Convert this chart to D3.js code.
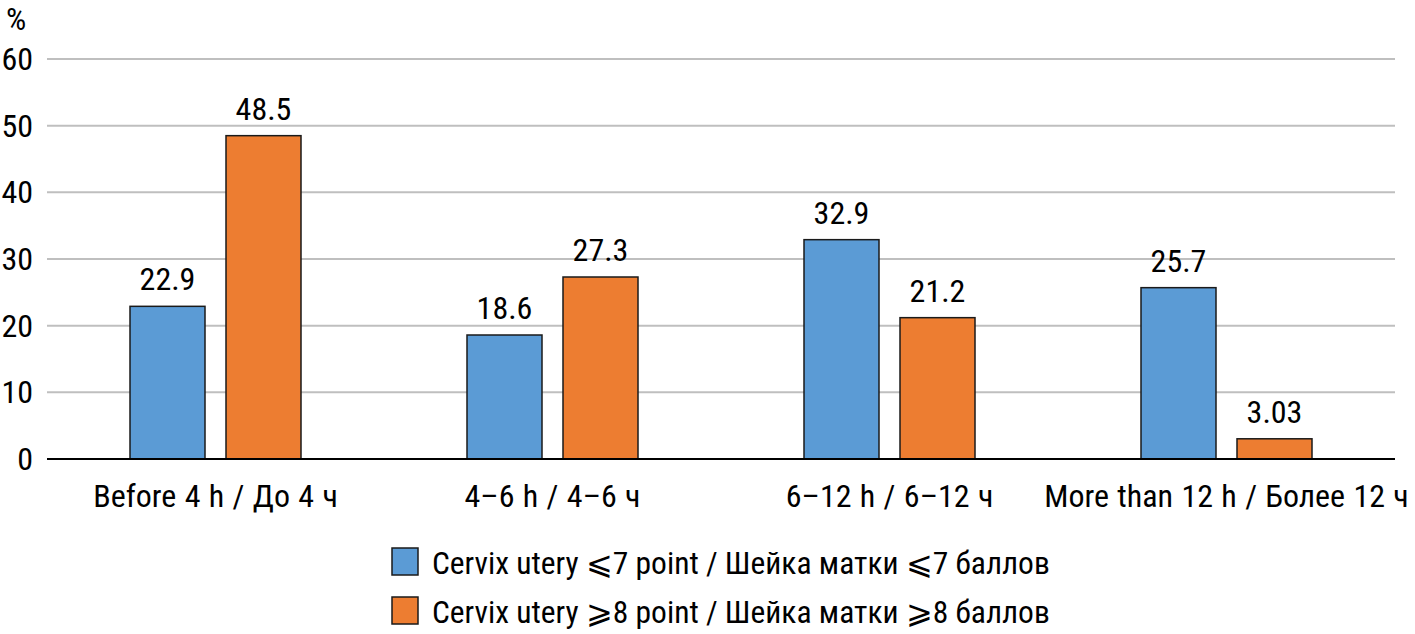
<!DOCTYPE html>
<html>
<head>
<meta charset="utf-8">
<script src="https://cdn.jsdelivr.net/npm/d3@7"></script>
<style>
  body { margin: 0; background: #fff; }
  text { font-family: "Liberation Sans Narrow", "Roboto Condensed", "Liberation Sans", sans-serif; fill: #000; }
</style>
</head>
<body>
<div id="chart"></div>
<script>
var categories = ["Before 4 h / До 4 ч", "4–6 h / 4–6 ч", "6–12 h / 6–12 ч", "More than 12 h / Более 12 ч"];
var seriesNames = ["Cervix utery \u2A7D7 point / Шейка матки \u2A7D7 баллов",
                   "Cervix utery \u2A7E8 point / Шейка матки \u2A7E8 баллов"];
var lowScore = [22.9, 18.6, 32.9, 25.7];
var highScore = [48.5, 27.3, 21.2, 3.03];
var valueLabels = [["22.9", "18.6", "32.9", "25.7"], ["48.5", "27.3", "21.2", "3.03"]];
var yTicks = [0, 10, 20, 30, 40, 50, 60];
var colors = ["#5b9bd5", "#ed7d31"];

var width = 1415, height = 634;
var x0 = 47, x1 = 1395, yTop = 59, yBase = 459;
var fs = 32;

var svg = d3.select("#chart").append("svg")
    .attr("width", width)
    .attr("height", height);

var x = d3.scaleBand().domain(categories).range([x0, x1]).padding(0);
var y = d3.scaleLinear().domain([0, 60]).range([yBase, yTop]);

// gridlines
svg.append("g").selectAll("line")
    .data(yTicks.filter(function(d) { return d > 0; }))
    .enter().append("line")
    .attr("x1", x0).attr("x2", x1)
    .attr("y1", function(d) { return y(d); })
    .attr("y2", function(d) { return y(d); })
    .attr("stroke", "#bfbfbf")
    .attr("stroke-width", 2);

// y tick labels
svg.append("g").selectAll("text")
    .data(yTicks)
    .enter().append("text")
    .attr("x", 33)
    .attr("y", function(d) { return y(d) + 11; })
    .attr("text-anchor", "end")
    .attr("font-size", fs)
    .text(function(d) { return d; });

svg.append("text")
    .attr("x", 6).attr("y", 30)
    .attr("font-size", fs)
    .text("%");

var barW = 75, gap = 21;
var series = [lowScore, highScore];

series.forEach(function(vals, s) {
  var g = svg.append("g");
  var xs = function(d, i) {
    var c = x(categories[i]) + x.bandwidth() / 2;
    return s === 0 ? c - gap / 2 - barW : c + gap / 2;
  };
  g.selectAll("rect").data(vals).enter().append("rect")
    .attr("x", xs)
    .attr("y", function(d) { return y(d); })
    .attr("width", barW)
    .attr("height", function(d) { return yBase - y(d); })
    .attr("fill", colors[s])
    .attr("stroke", "#1a1a1a")
    .attr("stroke-width", 1.5);
  g.selectAll("text").data(vals).enter().append("text")
    .attr("x", function(d, i) { return xs(d, i) + barW / 2; })
    .attr("y", function(d) { return y(d) - 16; })
    .attr("text-anchor", "middle")
    .attr("font-size", fs)
    .text(function(d, i) { return valueLabels[s][i]; });
});

// baseline
svg.append("line")
  .attr("x1", x0).attr("x2", x1)
  .attr("y1", yBase).attr("y2", yBase)
  .attr("stroke", "#000").attr("stroke-width", 2);

// category labels
svg.append("g").selectAll("text")
    .data(categories)
    .enter().append("text")
    .attr("x", function(d) { return x(d) + x.bandwidth() / 2; })
    .attr("y", 507)
    .attr("text-anchor", "middle")
    .attr("font-size", fs)
    .attr("word-spacing", 1)
    .text(function(d) { return d; });

// legend
var legend = svg.append("g").selectAll("g")
    .data(seriesNames)
    .enter().append("g")
    .attr("transform", function(d, i) { return "translate(392," + (548 + i * 49) + ")"; });
legend.append("rect")
    .attr("width", 26).attr("height", 27)
    .attr("fill", function(d, i) { return colors[i]; })
    .attr("stroke", "#1a1a1a").attr("stroke-width", 1.5);
legend.append("text")
    .attr("x", 40).attr("y", 26)
    .attr("font-size", 31.5)
    .text(function(d) { return d; });
</script>
</body>
</html>
